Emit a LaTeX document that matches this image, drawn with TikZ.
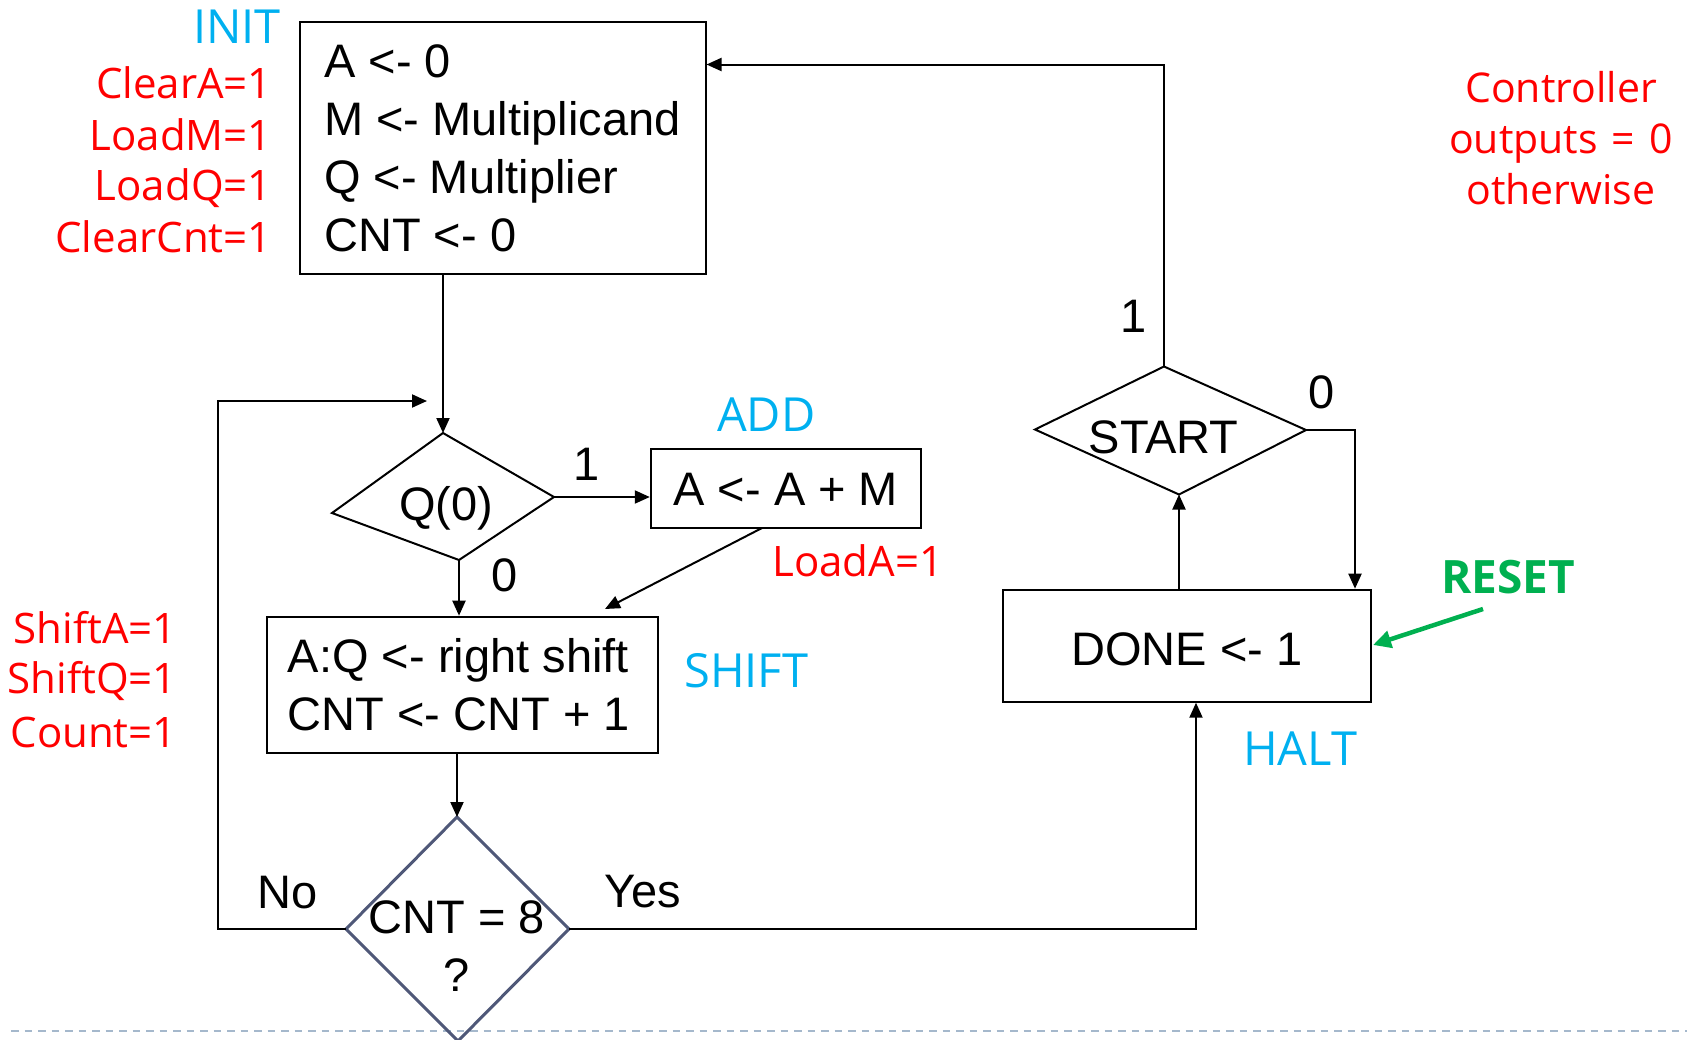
\documentclass[tikz,border=0pt]{standalone}
\usepackage{fontspec}
\setmainfont{Liberation Sans}
\newfontfamily\labfont{Open Sans}
\usetikzlibrary{arrows.meta}
\definecolor{cyanlab}{HTML}{00B0F0}
\definecolor{redlab}{HTML}{FF0000}
\definecolor{greenlab}{HTML}{00B050}
\definecolor{diagray}{HTML}{4F5878}
\definecolor{dashblue}{HTML}{A5B8CC}
\tikzset{
  blk/.style={font=\fontsize{47}{58}\selectfont, inner sep=0pt},
  box/.style={blk, draw, line width=2pt, align=left},
  dia/.style={draw, line width=2pt, line join=miter},
  arr/.style={line width=2pt, -{Triangle[length=15pt,width=13pt]}},
  greenarr/.style={line width=4.5pt, draw=greenlab, -{Triangle[length=18pt,width=17pt]}},
  statelab/.style={font=\labfont\fontsize{47}{54}\selectfont, text=cyanlab, inner sep=0pt},
  outlab/.style={font=\labfont\fontsize{42}{51}\selectfont, text=redlab, inner sep=0pt},
}
\begin{document}
\begin{tikzpicture}[x=1pt,y=-1pt]
\useasboundingbox (0,0) rectangle (1687,1039);

% dashed rule at the bottom
\coordinate (ruleL) at (11,1031);
\coordinate (ruleR) at (1687,1031);
\draw[dashblue, line width=2.2pt, dash pattern=on 7.5pt off 6pt] (ruleL) -- (ruleR);

% boxes
\node[box, minimum width=406pt, minimum height=252pt] (init) at (502.5,148.3)
  {A <- 0\\M <- Multiplicand\hspace*{10pt}\\Q <- Multiplier\\CNT <- 0};
\node[box, text height=33.7pt, text depth=0pt, minimum width=270pt, minimum height=79pt] (add) at (785.8,488.4) {A <- A + M};
\node[box, minimum width=391pt, minimum height=136pt] (shift) at (462.3,684.7)
  {A:Q <- right shift\hspace*{8pt}\\CNT <- CNT + 1};
\node[box, text height=40pt, text depth=0pt, minimum width=368pt, minimum height=112pt] (done) at (1187,645.7) {DONE <- 1};

% Q(0) decision
\coordinate (qT) at (443,433);
\coordinate (qR) at (554,497);
\coordinate (qB) at (459,560);
\coordinate (qL) at (332,513);
\draw[dia] (qT) -- (qR) -- (qB) -- (qL) -- cycle;
\node[blk, anchor=base] (qtext) at (446,520) {Q(0)};

% START decision
\coordinate (sT) at (1164,366.5);
\coordinate (sR) at (1306,430);
\coordinate (sB) at (1179,494.5);
\coordinate (sL) at (1035,429.5);
\draw[dia] (sT) -- (sR) -- (sB) -- (sL) -- cycle;
\node[blk, anchor=base] (stext) at (1163.5,453) {START};

% CNT = 8 decision
\coordinate (cT) at (457,817);
\coordinate (cR) at (569,929);
\coordinate (cB) at (458,1041);
\coordinate (cL) at (346,929);
\draw[dia, draw=diagray, line width=3pt] (cT) -- (cR) -- (cB) -- (cL) -- cycle;
\node[blk, align=center] (ctext) at (457,946.2) {CNT = 8\\?};

% connectors
\draw[arr] (init.south -| qT) -- (qT);
\coordinate (loopBL) at (218,929);
\coordinate (loopTL) at (218,401);
\coordinate (loopEnd) at (427,401);
\draw[arr] (cL) -- (loopBL) -- (loopTL) -- (loopEnd);
\draw[arr] (qR) -- (qR -| add.west);
\draw[arr] (qB) -- (qB |- shift.north);
\coordinate (addOut) at (762,528);
\coordinate (shiftIn) at (605,609);
\draw[arr] (addOut) -- (shiftIn);
\draw[arr] (shift.south -| cT) -- (cT);
\coordinate (yesCorner) at (1196,929);
\draw[arr] (cR) -- (yesCorner) -- (yesCorner |- done.south);
\draw[arr] (done.north -| sB) -- (sB);
\coordinate (zeroCorner) at (1355,430);
\draw[arr] (sR) -- (zeroCorner) -- (zeroCorner |- done.north);
\coordinate (topCorner) at (1164,64.5);
\draw[arr] (sT) -- (topCorner) -- (topCorner -| init.east);
\coordinate (resetStart) at (1483,609);
\coordinate (resetTip) at (1373,645);
\draw[greenarr] (resetStart) -- (resetTip);

% branch labels
\node[blk, anchor=base west] (lq1) at (573,480) {1};
\node[blk, anchor=base west] (lq0) at (491.5,591.7) {0};
\node[blk, anchor=base west] (ls1) at (1120,332) {1};
\node[blk, anchor=base west] (ls0) at (1308,408) {0};
\node[blk, anchor=base west] (lno) at (257,908) {No};
\node[blk, anchor=base west] (lyes) at (604,907) {Yes};

% state names
\node[statelab, anchor=base east] (linit) at (281,43) {INIT};
\node[statelab, anchor=base west] (ladd) at (717,431.7) {ADD};
\node[statelab, anchor=base west] (lshift) at (684,687) {SHIFT};
\node[statelab, anchor=base west] (lhalt) at (1243,765) {HALT};
\node[font=\labfont\bfseries\fontsize{46}{52}\selectfont, text=greenlab, inner sep=0pt, anchor=base west] (lreset) at (1441,593) {RESET};

% controller outputs
\node[outlab, anchor=base east] (o1) at (272,98) {ClearA=1};
\node[outlab, anchor=base east] (o2) at (272,150) {LoadM=1};
\node[outlab, anchor=base east] (o3) at (272,200) {LoadQ=1};
\node[outlab, anchor=base east] (o4) at (272,252) {ClearCnt=1};
\node[outlab, anchor=base west] (o5) at (772,576) {LoadA=1};
\node[outlab, anchor=base east] (o6) at (177,643) {ShiftA=1};
\node[outlab, anchor=base east] (o7) at (177,693) {ShiftQ=1};
\node[outlab, anchor=base east] (o8) at (177,747) {Count=1};
\node[font=\labfont\fontsize{41}{51}\selectfont, text=redlab, inner sep=0pt, align=center] (onote) at (1561,138.5) {Controller\\outputs\hspace{14pt}=\hspace{14pt}0\\otherwise};
\end{tikzpicture}
\end{document}
